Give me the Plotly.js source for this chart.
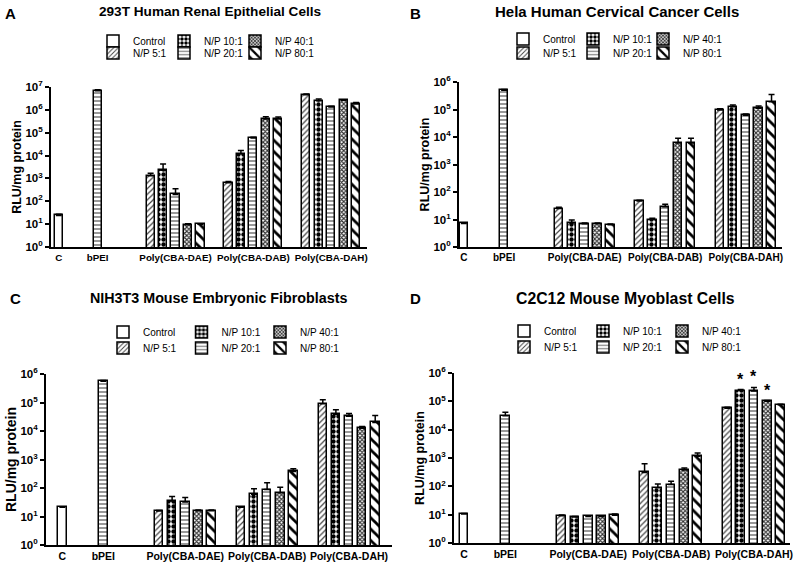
<!DOCTYPE html>
<html><head><meta charset="utf-8">
<script src="https://cdn.plot.ly/plotly-3.0.1.min.js"></script>
<style>html,body{margin:0;padding:0;background:#fff}</style>
</head><body><div id="chart" style="width:800px;height:568px"></div>
<script>
// ---------- data ----------
const controlName = 'Control';
const ratios = ['N/P 5:1', 'N/P 10:1', 'N/P 20:1', 'N/P 40:1', 'N/P 80:1'];
const polymers = ['Poly(CBA-DAE)', 'Poly(CBA-DAB)', 'Poly(CBA-DAH)'];
const ctrlCat = ['C'];
const peiCat = ['bPEI'];
const xLabels = ['C', 'bPEI', 'Poly(CBA-DAE)', 'Poly(CBA-DAB)', 'Poly(CBA-DAH)'];
const yTickVals = [1, 10, 100, 1e3, 1e4, 1e5, 1e6, 1e7];
const yTickText = ['10<sup>0</sup>', '10<sup>1</sup>', '10<sup>2</sup>', '10<sup>3</sup>', '10<sup>4</sup>', '10<sup>5</sup>', '10<sup>6</sup>', '10<sup>7</sup>'];
const yTitle = 'RLU/mg protein';
const panelTitles = ['293T Human Renal Epithelial Cells', 'Hela Human Cervical Cancer Cells', 'NIH3T3 Mouse Embryonic Fibroblasts', 'C2C12 Mouse Myoblast Cells'];
const panelLetters = ['A', 'B', 'C', 'D'];

// Panel A (values per polymer in ratio order 5,10,20,40,80; *_err = upper SD)
const A_ctrl = [24], A_ctrl_err = [3];
const A_pei = [6.9e6], A_pei_err = [0.6e6];
const A_DAE = [1300, 2300, 200, 9.5, 10], A_DAE_err = [400, 2000, 150, 0.8, 0.5];
const A_DAB = [650, 12000, 58000, 400000, 400000], A_DAB_err = [80, 4500, 5000, 100000, 90000];
const A_DAH = [4.6e6, 2.5e6, 1.35e6, 2.6e6, 1.8e6], A_DAH_err = [0.4e6, 0.5e6, 0.1e6, 0.2e6, 0.3e6];

// Panel B
const B_ctrl = [7.2], B_ctrl_err = [0.4];
const B_pei = [5.0e5], B_pei_err = [0.3e5];
const B_DAE = [25, 7.5, 7, 7, 6.5], B_DAE_err = [3, 2, 0.4, 0.4, 0.3];
const B_DAB = [47, 10, 29, 6000, 6000], B_DAB_err = [3, 1, 7, 3000, 3000];
const B_DAH = [95000, 125000, 62000, 110000, 190000], B_DAH_err = [12000, 20000, 6000, 25000, 160000];

// Panel C
const C_ctrl = [21], C_ctrl_err = [0.5];
const C_pei = [5.6e5], C_pei_err = [0.3e5];
const C_DAE = [15.5, 35, 32, 16, 16], C_DAE_err = [0.8, 15, 14, 1, 1];
const C_DAB = [21, 60, 88, 68, 380], C_DAB_err = [1, 35, 65, 38, 90];
const C_DAH = [90000, 38000, 33000, 12500, 20000], C_DAH_err = [35000, 18000, 8000, 1800, 15000];

// Panel D
const D_ctrl = [10.5], D_ctrl_err = [0.5];
const D_pei = [31000], D_pei_err = [10000];
const D_DAE = [9.2, 8.2, 8.7, 8.7, 9.5], D_DAE_err = [0.6, 0.4, 0.4, 0.4, 1];
const D_DAB = [310, 90, 115, 380, 1150], D_DAB_err = [320, 30, 35, 60, 350];
const D_DAH = [57000, 240000, 230000, 100000, 75000], D_DAH_err = [5000, 20000, 80000, 7000, 4000];
const D_significant = ['N/P 10:1', 'N/P 20:1', 'N/P 40:1'];

// ---------- styling / layout ----------
const FONT = 'Liberation Sans, Arial, Helvetica, sans-serif';
const W = 800, H = 568;
const axisCats = ['C', 'bPEI', ' ', 'Poly(CBA-DAE)', '  ', 'Poly(CBA-DAB)', '   ', 'Poly(CBA-DAH)'];
const BARW = 0.21, PITCH = 0.32;
const patterns = [
  {shape: '/', fgcolor: '#444', bgcolor: 'white', size: 4, solidity: 0.3},
  {shape: '.', fgcolor: '#000', bgcolor: 'white', size: 5, solidity: 0.6},
  {shape: '-', fgcolor: '#555', bgcolor: 'white', size: 4, solidity: 0.3},
  {shape: 'x', fgcolor: '#333', bgcolor: 'white', size: 3, solidity: 0.6},
  {shape: '\\', fgcolor: '#000', bgcolor: 'white', size: 8, solidity: 0.35}
];
const peiPattern = {shape: '-', fgcolor: '#555', bgcolor: 'white', size: 4, solidity: 0.3};

const panels = [
  {vals: [A_DAE, A_DAB, A_DAH], errs: [A_DAE_err, A_DAB_err, A_DAH_err], ctrl: A_ctrl, ctrlErr: A_ctrl_err, pei: A_pei, peiErr: A_pei_err,
   dx: [51, 367], dy: [87, 247], xr: [-0.2, 7.92], yr: [0, 7], t: [210, 12], tSize: 13.6, l: [10, 13], rows: [41, 53], textX: 133, pitch: 71, ytSize: 12.5, xlSize: 9.8},
  {vals: [B_DAE, B_DAB, B_DAH], errs: [B_DAE_err, B_DAB_err, B_DAH_err], ctrl: B_ctrl, ctrlErr: B_ctrl_err, pei: B_pei, peiErr: B_pei_err,
   dx: [459, 782], dy: [82, 247], xr: [-0.12, 7.9], yr: [0, 6], t: [617, 12], tSize: 15, l: [415, 13], rows: [39, 53], textX: 543, pitch: 70, ytSize: 12.5, xlSize: 10},
  {vals: [C_DAE, C_DAB, C_DAH], errs: [C_DAE_err, C_DAB_err, C_DAH_err], ctrl: C_ctrl, ctrlErr: C_ctrl_err, pei: C_pei, peiErr: C_pei_err,
   dx: [46, 392], dy: [374, 545], xr: [-0.4, 8.05], yr: [0, 6], t: [218, 298], tSize: 14.3, l: [15, 298], rows: [332, 348], textX: 143, pitch: 78.5, ytSize: 14, xlSize: 10.5},
  {vals: [D_DAE, D_DAB, D_DAH], errs: [D_DAE_err, D_DAB_err, D_DAH_err], ctrl: D_ctrl, ctrlErr: D_ctrl_err, pei: D_pei, peiErr: D_pei_err,
   dx: [454, 790], dy: [373, 543], xr: [-0.24, 7.87], yr: [0, 6], t: [625, 298], tSize: 15.8, l: [415, 298], rows: [331, 347], textX: 544, pitch: 79, ytSize: 12.5, xlSize: 10.5}
];

// legend grid position (row, col) for Control and each ratio
const ctrlGrid = [0, 0];
const ratioGrid = [[1, 0], [0, 1], [1, 1], [0, 2], [1, 2]];
const errBar = (arr) => ({type: 'data', symmetric: false, array: arr, arrayminus: arr.map(() => 0),
  color: '#000', thickness: 1.5, width: 3, visible: true});
const lineSpec = {color: '#000', width: 1.5};

const traces = [];
const layout = {
  width: W, height: H, margin: {l: 0, r: 0, t: 0, b: 0},
  paper_bgcolor: 'white', plot_bgcolor: 'white', barmode: 'overlay', bargap: 0,
  font: {family: FONT, color: '#000'}, annotations: []
};

let legendCount = 0;
function newLegend(p, grid) {
  legendCount += 1;
  const id = legendCount === 1 ? 'legend' : 'legend' + legendCount;
  layout[id] = {orientation: 'h', xref: 'paper', yref: 'paper', xanchor: 'left', yanchor: 'middle',
    x: (p.textX + grid[1] * p.pitch - 40) / W, y: 1 - p.rows[grid[0]] / H,
    bgcolor: 'rgba(0,0,0,0)', borderwidth: 0, font: {family: FONT, size: 10},
    itemclick: false, itemdoubleclick: false};
  return id;
}

panels.forEach((p, k) => {
  const n = k === 0 ? '' : String(k + 1);
  const xa = 'x' + n, ya = 'y' + n;

  traces.push({type: 'bar', name: controlName, x: ctrlCat, y: p.ctrl, xaxis: xa, yaxis: ya,
    width: BARW, offset: -BARW / 2, legend: newLegend(p, ctrlGrid),
    marker: {color: 'white', line: lineSpec}, error_y: errBar(p.ctrlErr), hoverinfo: 'x+y'});
  traces.push({type: 'bar', name: 'bPEI', x: peiCat, y: p.pei, xaxis: xa, yaxis: ya, showlegend: false,
    width: BARW, offset: -BARW / 2,
    marker: {color: 'white', line: lineSpec, pattern: peiPattern}, error_y: errBar(p.peiErr), hoverinfo: 'x+y'});
  ratios.forEach((r, i) => {
    const yv = p.vals.map(v => v[i]);
    const ev = p.errs.map(v => v[i]);
    traces.push({type: 'bar', name: r, x: polymers, y: yv, xaxis: xa, yaxis: ya,
      width: BARW, offset: (i - 2) * PITCH - BARW / 2, legend: newLegend(p, ratioGrid[i]),
      marker: {color: 'white', line: lineSpec, pattern: patterns[i]}, error_y: errBar(ev), hoverinfo: 'name+y'});
  });

  layout['xaxis' + n] = {
    domain: [p.dx[0] / W, p.dx[1] / W], anchor: ya, type: 'category', categoryorder: 'array', categoryarray: axisCats,
    tickmode: 'array', tickvals: xLabels, ticktext: xLabels, tickangle: 0,
    range: p.xr, showline: true, linecolor: '#000', linewidth: 2, ticks: '', showgrid: false, zeroline: false,
    tickfont: {family: FONT, size: p.xlSize, weight: 'bold'}, fixedrange: true
  };
  layout['yaxis' + n] = {
    domain: [1 - p.dy[1] / H, 1 - p.dy[0] / H], anchor: xa, type: 'log', range: p.yr,
    tickvals: yTickVals, ticktext: yTickText, ticks: 'outside', ticklen: 4, tickwidth: 2, tickcolor: '#000',
    showline: true, linecolor: '#000', linewidth: 2, showgrid: false, zeroline: false,
    tickfont: {family: FONT, size: 11.5, weight: 'bold'},
    title: {text: yTitle, font: {family: FONT, size: p.ytSize, weight: 'bold'}, standoff: 1}, fixedrange: true
  };

  layout.annotations.push({xref: 'paper', yref: 'paper', x: p.t[0] / W, y: 1 - p.t[1] / H, xanchor: 'center', yanchor: 'middle',
    showarrow: false, text: panelTitles[k], font: {family: FONT, size: p.tSize, weight: 'bold'}});
  layout.annotations.push({xref: 'paper', yref: 'paper', x: p.l[0] / W, y: 1 - p.l[1] / H, xanchor: 'center', yanchor: 'middle',
    showarrow: false, text: panelLetters[k], font: {family: FONT, size: 15, weight: 'bold'}});
});

// significance stars on panel D (Poly(CBA-DAH))
const dahIdx = axisCats.indexOf('Poly(CBA-DAH)');
D_significant.forEach(r => {
  const i = ratios.indexOf(r);
  layout.annotations.push({xref: 'x4', yref: 'y4', x: dahIdx + (i - 2) * PITCH,
    y: Math.log10(D_DAH[i] + D_DAH_err[i]), xanchor: 'center', yanchor: 'bottom', yshift: 0,
    showarrow: false, text: '*', font: {family: FONT, size: 16, weight: 'bold'}});
});

Plotly.newPlot('chart', traces, layout, {displayModeBar: false});
</script>
</body></html>
